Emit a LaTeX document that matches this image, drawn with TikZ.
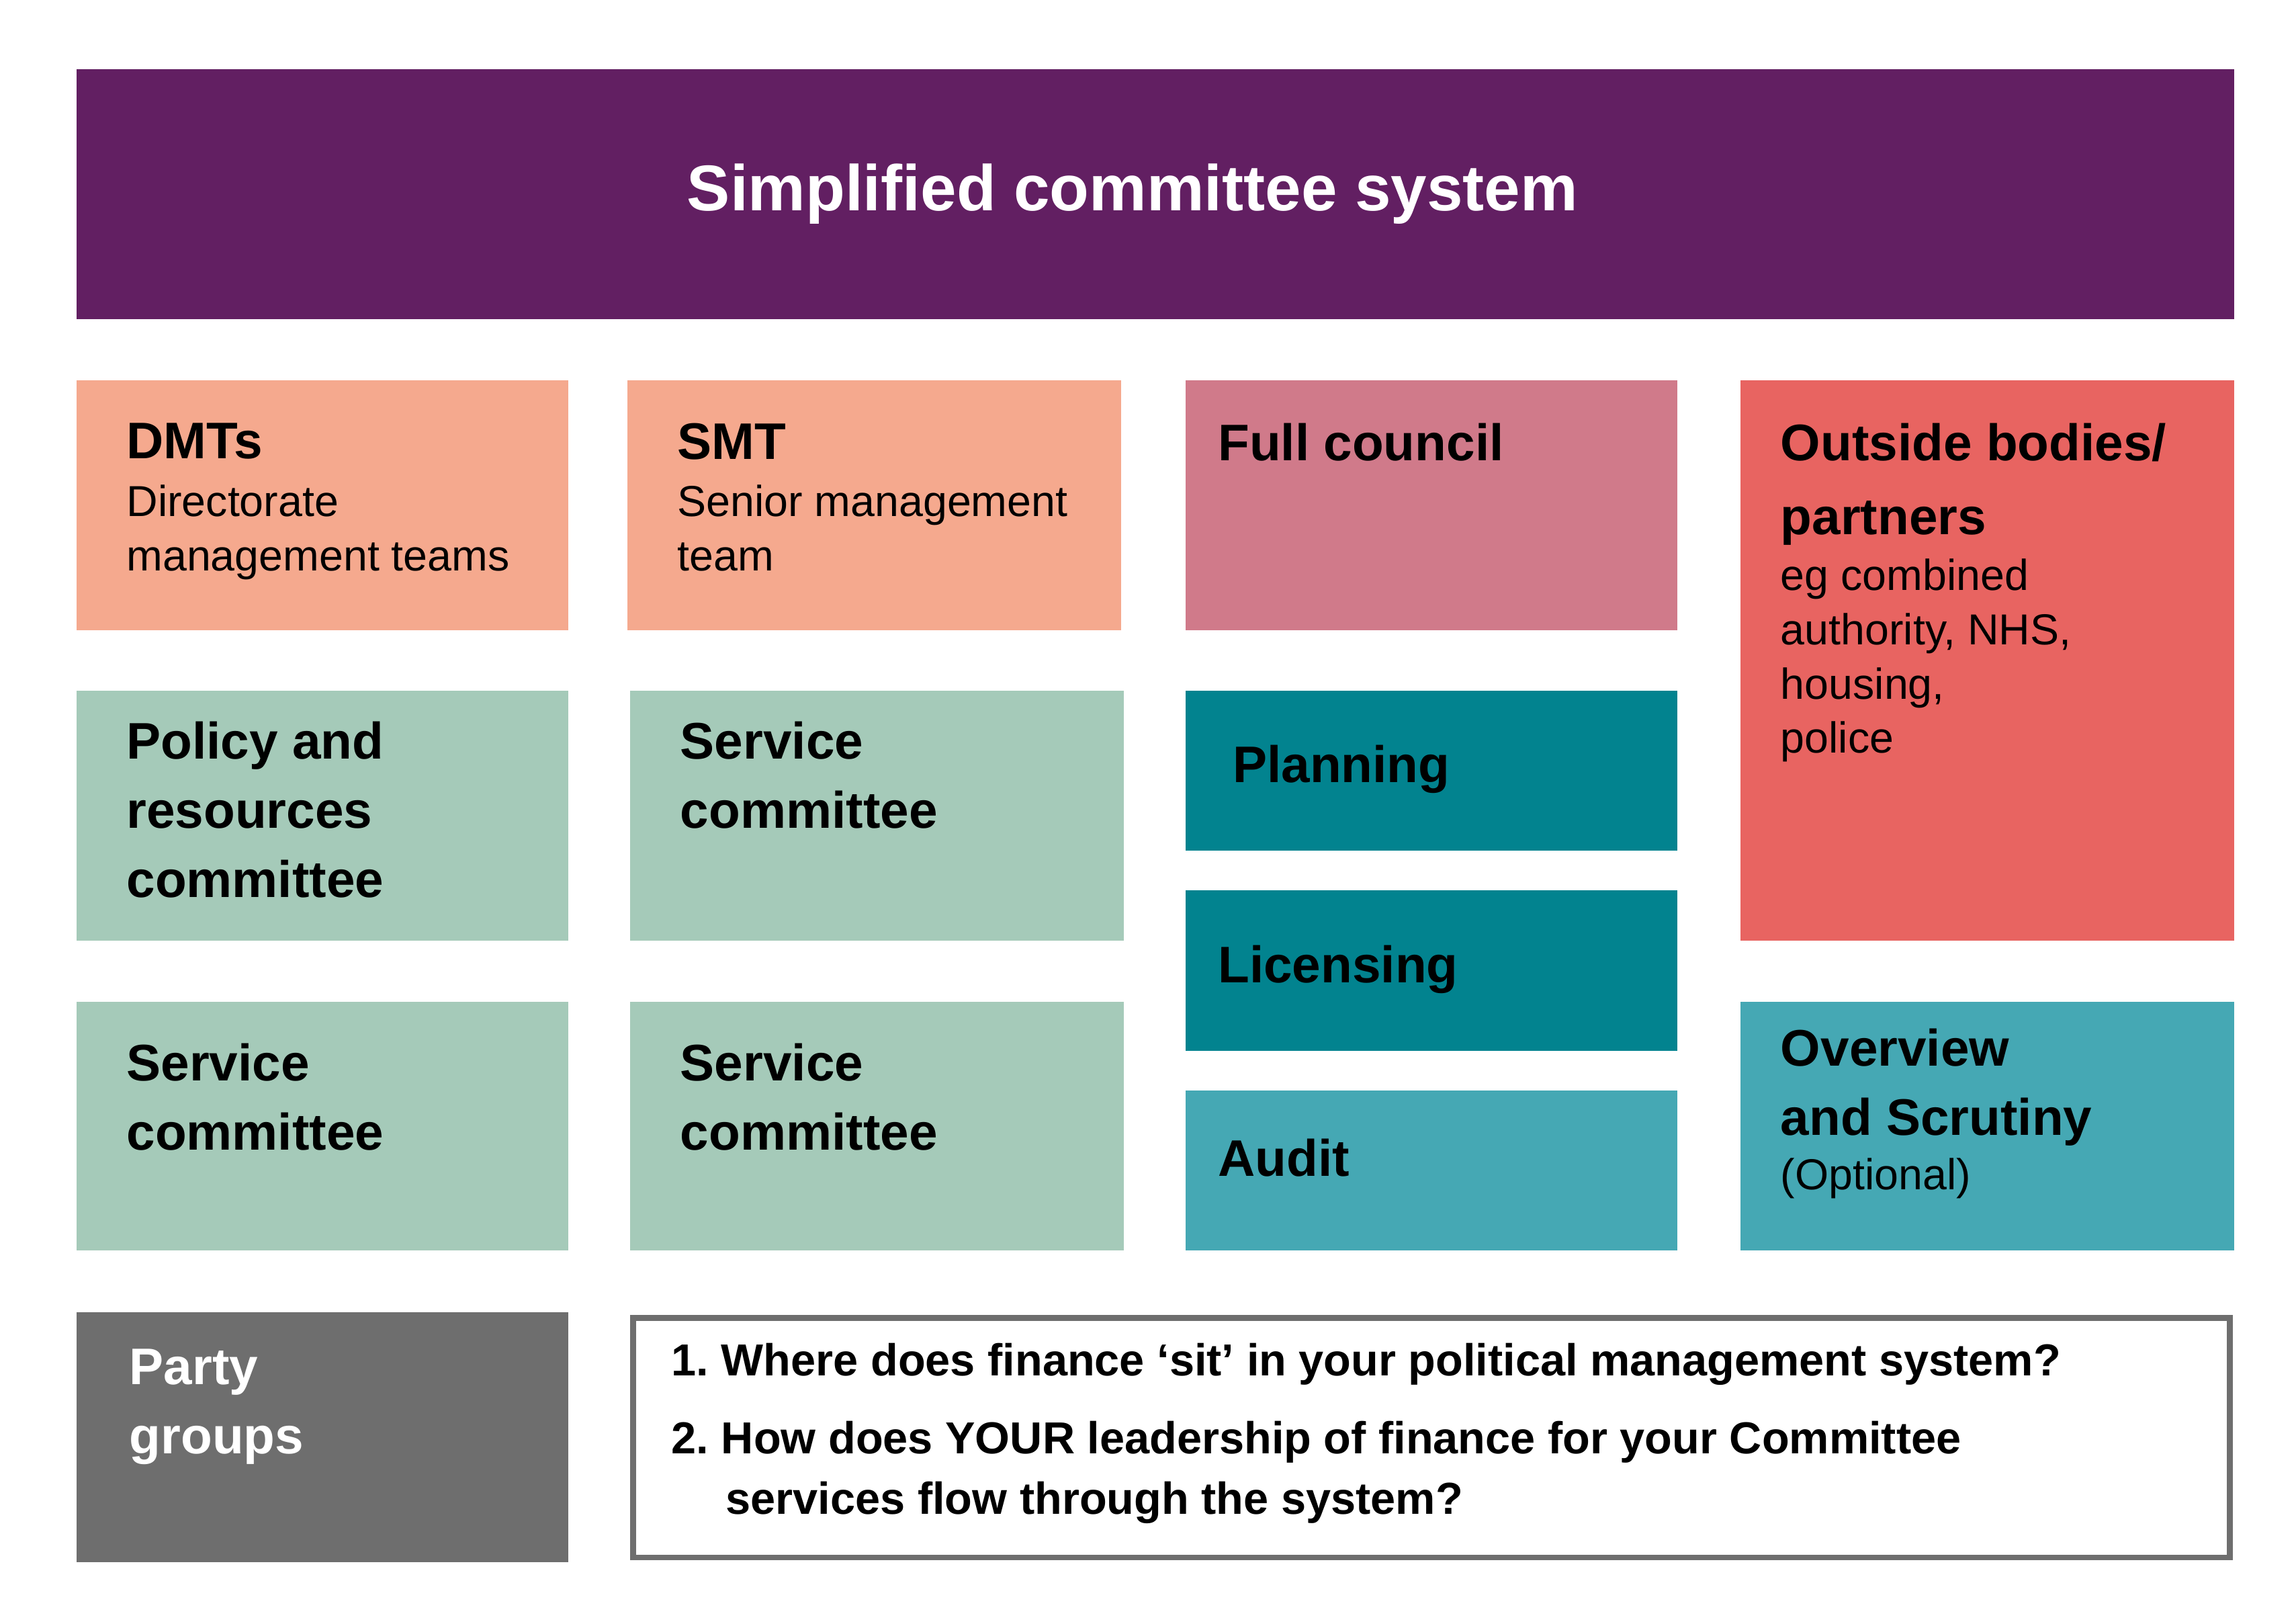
\documentclass[tikz,border=0pt]{standalone}
\usepackage{fontspec}
\setmainfont{Liberation Sans}
\definecolor{purp}{HTML}{621F62}
\definecolor{salmon}{HTML}{F5A98E}
\definecolor{rose}{HTML}{D07A8A}
\definecolor{redc}{HTML}{E86461}
\definecolor{sage}{HTML}{A5CAB9}
\definecolor{teal}{HTML}{02838F}
\definecolor{lteal}{HTML}{45A8B4}
\definecolor{grayc}{HTML}{6E6E6E}
\begin{document}
\begin{tikzpicture}[x=1pt,y=-1pt,
  hd/.style={anchor=north west,inner sep=0,align=left,font=\fontsize{35}{47}\selectfont\bfseries},
  sb/.style={anchor=north west,inner sep=0,align=left,font=\fontsize{29.5}{37}\selectfont}]
\useasboundingbox[fill=white] (0,0) rectangle (1563,1105);
\fill[purp] (52,47) rectangle (1521,217);
\node[text=white,font=\fontsize{44}{50}\selectfont\bfseries] (title) at (771,132) {Simplified committee system};
% row 1
\fill[salmon] (52,259) rectangle (387,429);
\node[hd] (dmt) at (86,288) {DMTs};
\node[sb] (dmts) at (86,330) {Directorate\\management teams};
\fill[salmon] (427,259) rectangle (763,429);
\node[hd] (smt) at (461,288) {SMT};
\node[sb] (smts) at (461,330) {Senior management\\team};
\fill[rose] (807,259) rectangle (1142,429);
\node[hd] (fc) at (829,288) {Full council};
\fill[redc] (1185,259) rectangle (1521,640);
\node[hd] (ob) at (1212,288) {Outside bodies/\\[3pt]partners};
\node[sb] (obs) at (1212,380) {eg combined\\authority, NHS,\\housing,\\police};
% row 2
\fill[sage] (52,470) rectangle (387,640);
\node[hd] (pr) at (86,491) {Policy and\\resources\\committee};
\fill[sage] (429,470) rectangle (765,640);
\node[hd] (sc1) at (463,491) {Service\\committee};
\fill[teal] (807,470) rectangle (1142,579);
\node[hd] (pl) at (839,507) {Planning};
\fill[teal] (807,606) rectangle (1142,715);
\node[hd] (li) at (829,643) {Licensing};
\fill[lteal] (807,742) rectangle (1142,851);
\node[hd] (au) at (829,775) {Audit};
% row 3
\fill[sage] (52,682) rectangle (387,851);
\node[hd] (sc2) at (86,710) {Service\\committee};
\fill[sage] (429,682) rectangle (765,851);
\node[hd] (sc3) at (463,710) {Service\\committee};
\fill[lteal] (1185,682) rectangle (1521,851);
\node[hd] (os) at (1212,700) {Overview\\and Scrutiny};
\node[sb] (oss) at (1212,788) {(Optional)};
% bottom
\fill[grayc] (52,893) rectangle (387,1063);
\node[hd,text=white] (pg) at (88,918) {Party\\groups};
\draw[grayc,line width=4pt] (431,897) rectangle (1518,1060);
\node[anchor=north west,inner sep=0,align=left,font=\fontsize{30.5}{41}\selectfont\bfseries] (q) at (457,914) {1.\ Where does finance ‘sit’ in your political management system?\\[12pt]
2.\ How does YOUR leadership of finance for your Committee\\
\hspace*{37pt}services flow through the system?};
\end{tikzpicture}
\end{document}
